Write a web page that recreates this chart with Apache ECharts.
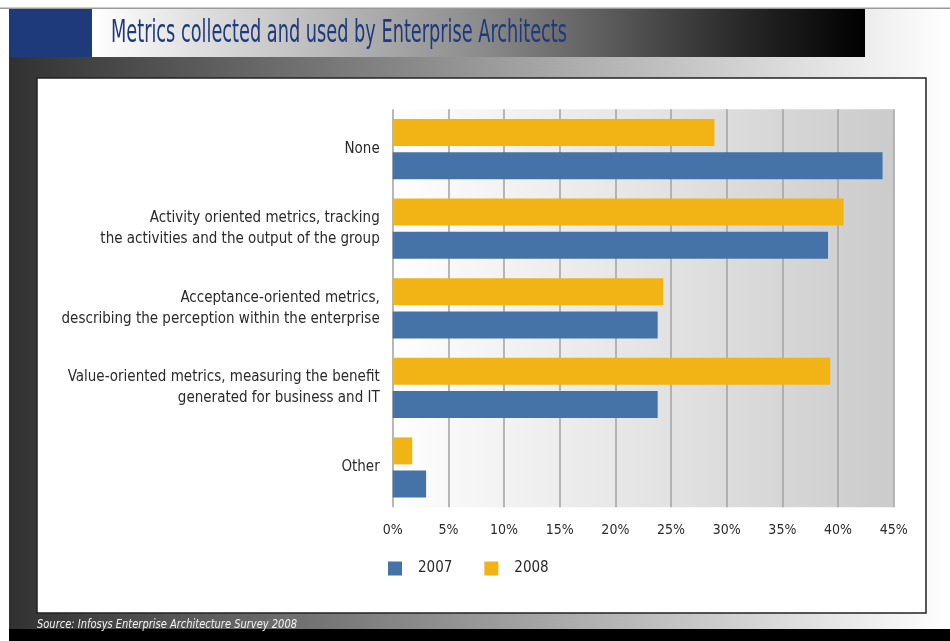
<!DOCTYPE html>
<html>
<head>
<meta charset="utf-8">
<title>Metrics collected and used by Enterprise Architects</title>
<script src="https://cdn.jsdelivr.net/npm/echarts@6/dist/echarts.min.js"></script>
<style>
  html, body { margin: 0; padding: 0; background: #ffffff; }
  #chart { width: 950px; height: 641px; }
</style>
</head>
<body>
<div id="chart"></div>
<script>
// Survey answers, top to bottom
const categories = [
  'None',
  'Activity oriented metrics, tracking\nthe activities and the output of the group',
  'Acceptance-oriented metrics,\ndescribing the perception within the enterprise',
  'Value-oriented metrics, measuring the benefit\ngenerated for business and IT',
  'Other'
];
const seriesNames = ['2007', '2008'];
// Share of respondents, percent
const values2007 = [44.0, 39.1, 23.8, 23.8, 3.0];
const values2008 = [28.9, 40.5, 24.3, 39.3, 1.75];
// Percentage axis
const axisMin = 0;
const axisMax = 45;
const axisStep = 5;

const titleText = 'Metrics collected and used by Enterprise Architects';
const sourceText = 'Source: Infosys Enterprise Architecture Survey 2008';

const FONT = "'Liberation Sans Narrow', 'DejaVu Sans Condensed', 'Arial Narrow', sans-serif";
const BLUE = '#4573a7';
const GOLD = '#f2b315';
const NAVY = '#1f3a7a';
const INK = '#2a2a2a';

// squeeze a line of text into a given width
function fitScale(text, font, width) {
  const ctx = document.createElement('canvas').getContext('2d');
  ctx.font = font;
  return width / ctx.measureText(text).width;
}
const titleFont = '32px ' + FONT;
const titleScale = fitScale(titleText, titleFont, 456);
const sourceFont = 'italic 13px ' + FONT;
const sourceScale = fitScale(sourceText, sourceFont, 260);

const chart = echarts.init(document.getElementById('chart'), null, { renderer: 'canvas' });

const hGrad = (stops) => new echarts.graphic.LinearGradient(0, 0, 1, 0,
  stops.map(([offset, color]) => ({ offset, color })));

chart.setOption({
  animation: false,
  textStyle: { fontFamily: FONT },
  graphic: [
    { type: 'rect', z: -30, shape: { x: 0, y: 7.5, width: 950, height: 1.5 }, style: { fill: '#9a9a9a' } },
    // dark-to-light frame behind the panel
    { type: 'rect', z: -29, shape: { x: 9, y: 9, width: 941, height: 620 },
      style: { fill: hGrad([[0, '#313131'], [1, '#ffffff']]) } },
    // headline banner
    { type: 'rect', z: -28, shape: { x: 9, y: 9, width: 83, height: 48 }, style: { fill: NAVY } },
    { type: 'rect', z: -28, shape: { x: 92, y: 9, width: 773, height: 48 },
      style: { fill: hGrad([[0, '#ffffff'], [0.5, '#8c8c8c'], [0.85, '#262626'], [1, '#000000']]) } },
    { type: 'text', z: -27, x: 111, y: 34, scaleX: titleScale,
      style: { x: 0, y: 0, text: titleText, font: titleFont, fill: NAVY, verticalAlign: 'middle' } },
    // white panel holding the chart
    { type: 'rect', z: -26, shape: { x: 37, y: 78, width: 889, height: 535 },
      style: { fill: '#ffffff', stroke: '#222222', lineWidth: 1.5 } },
    // footer
    { type: 'rect', z: -26, shape: { x: 9, y: 629, width: 941, height: 12 }, style: { fill: '#000000' } },
    { type: 'text', z: -25, x: 37, y: 624.5, scaleX: sourceScale,
      style: { x: 0, y: 0, text: sourceText, font: sourceFont, fill: '#f2f2f2', verticalAlign: 'middle' } }
  ],
  grid: {
    left: 392.7, top: 109.3, width: 501, height: 398,
    show: true, borderWidth: 0,
    backgroundColor: hGrad([[0, '#fefefe'], [1, '#cbcbcb']])
  },
  legend: {
    data: seriesNames,
    left: 388, top: 561, padding: 0,
    icon: 'rect', itemWidth: 14, itemHeight: 14, itemGap: 32,
    textStyle: { fontSize: 15, color: INK, fontFamily: FONT, padding: [0, 0, 0, 11] }
  },
  xAxis: {
    type: 'value', min: axisMin, max: axisMax, interval: axisStep,
    axisLine: { show: false }, axisTick: { show: false },
    axisLabel: { formatter: '{value}%', fontSize: 14, color: INK, margin: 16, fontFamily: FONT },
    splitLine: { show: true, lineStyle: { color: '#a6a6a6', width: 1.6 } }
  },
  yAxis: {
    type: 'category', data: categories, inverse: true,
    axisLine: { show: false }, axisTick: { show: false },
    axisLabel: { fontSize: 15, lineHeight: 21, color: INK, margin: 13, align: 'right', fontFamily: FONT }
  },
  series: [
    { name: '2008', type: 'bar', data: values2008, barWidth: 27, barGap: '23%',
      itemStyle: { color: GOLD } },
    { name: '2007', type: 'bar', data: values2007, barWidth: 27, barGap: '23%',
      itemStyle: { color: BLUE } }
  ]
});
</script>
</body>
</html>
